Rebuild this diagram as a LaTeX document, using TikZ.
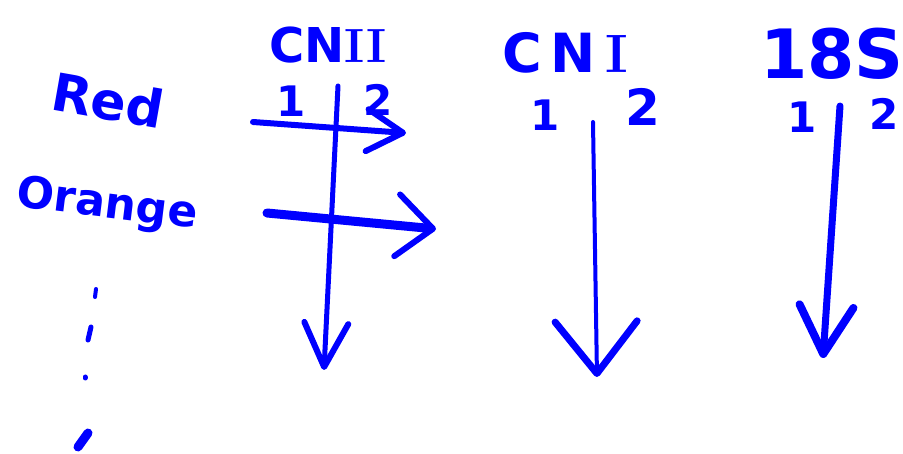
\documentclass[tikz,border=0pt]{standalone}
\usepackage{fontspec}
\newfontfamily\hand{DejaVu Sans}
\usetikzlibrary{arrows.meta}
\definecolor{ink}{RGB}{0,0,255}
\begin{document}
\begin{tikzpicture}[x=1pt,y=-1pt,
  txt/.style={text=ink, inner sep=0pt, font=\hand\bfseries\fontsize{#1}{#1}\selectfont},
  txt/.default=48,
  stroke/.style={draw=ink, line width=#1, line cap=round, line join=round},
  stroke/.default=5pt,
  dot/.style={draw=ink, line width=#1, line cap=round},
  dot/.default=5pt]
\useasboundingbox[fill=white] (0,0) rectangle (903,454);

% row labels
\node[txt=52, rotate=-10] (red) at (108,100) {Red};
\node[txt=44, rotate=-7] (orange) at (107,206) {Orange};

% column titles
\node[txt=48] (cnii) at (328,45) {CN{\rmfamily\bfseries II}};
\node[txt=54] (cni) at (565,53) {C\,N\,{\rmfamily\bfseries I}};
\node[txt=68] (s18) at (832,54) {18S};

% sub numbers
\node[txt=42] (cnii1) at (291,101) {1};
\node[txt=42] (cnii2) at (378,100) {2};
\node[txt=42] (cni1) at (545,115) {1};
\node[txt=50] (cni2) at (643,107) {2};
\node[txt=42] (s1) at (802,117) {1};
\node[txt=42] (s2) at (884,114) {2};

% connector end points
\coordinate (r0) at (253,122);
\coordinate (r1) at (406,133);
\coordinate (o0) at (267,213);
\coordinate (o1) at (436,229);
\coordinate (a0) at (338,86);
\coordinate (a1) at (324,370);
\coordinate (b0) at (593,122);
\coordinate (b1) at (597,377);
\coordinate (c0) at (840,106);
\coordinate (c1) at (823,358);

% arrows
\draw[stroke=6pt, -{Straight Barb[round,length=36pt,width=42pt]}] (r0) -- (r1);
\draw[stroke=9pt, -{Straight Barb[round,length=36pt,width=62pt,line width=6pt]}] (o0) -- (o1);
\draw[stroke=5pt, -{Straight Barb[round,length=44pt,width=44pt,line width=6pt]}] (a0) -- (a1);
\draw[stroke=4pt, -{Straight Barb[round,length=52pt,width=82pt,line width=7pt]}] (b0) -- (b1);
\draw[stroke=7pt, -{Straight Barb[round,length=48pt,width=54pt,line width=8pt]}] (c0) -- (c1);

% vertical dots
\coordinate (d1a) at (96,289); \coordinate (d1b) at (95,297);
\coordinate (d2a) at (91,327); \coordinate (d2b) at (88,340);
\coordinate (d3a) at (85,377); \coordinate (d3b) at (85,378);
\coordinate (d4a) at (88,433); \coordinate (d4b) at (78,447);
\draw[dot=4pt] (d1a) -- (d1b);
\draw[dot=5pt] (d2a) -- (d2b);
\draw[dot=5pt] (d3a) -- (d3b);
\draw[dot=9pt] (d4a) -- (d4b);
\end{tikzpicture}
\end{document}
